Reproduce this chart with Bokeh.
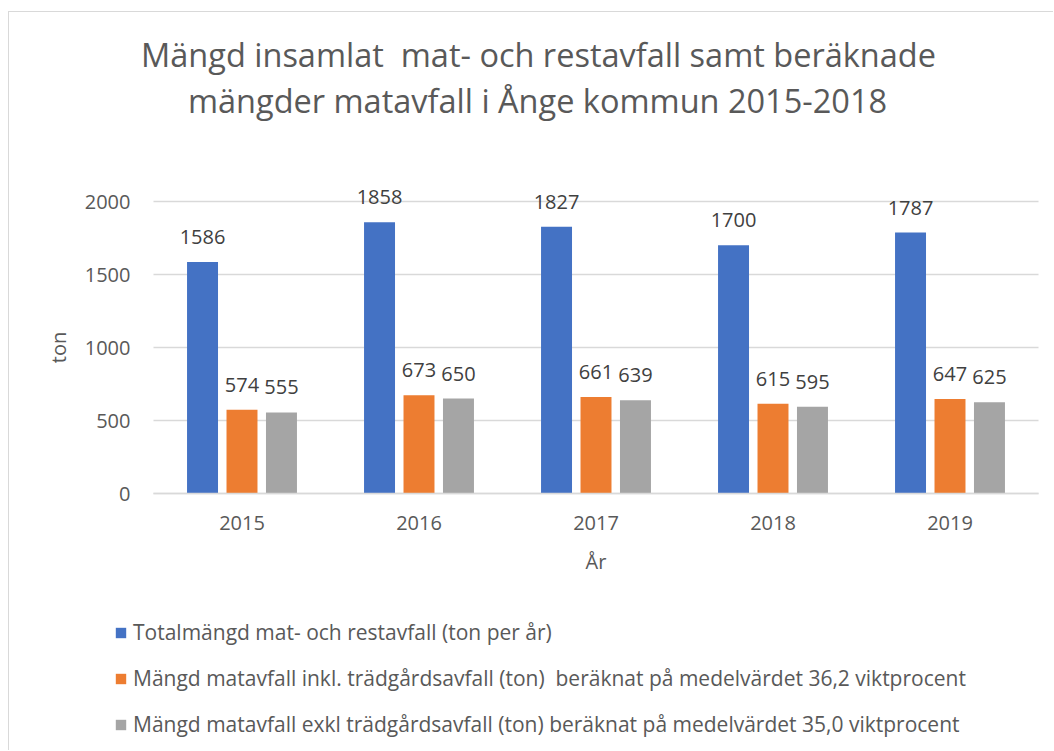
from bokeh.plotting import figure
from bokeh.models import (ColumnDataSource, FixedTicker, Legend, LegendItem, Label, Range1d)
from bokeh.transform import dodge
from bokeh.core.properties import value
from bokeh.embed import file_html
from bokeh.resources import INLINE

years = ["2015", "2016", "2017", "2018", "2019"]
total = [1586, 1858, 1827, 1700, 1787]
inkl = [574, 673, 661, 615, 647]
exkl = [555, 650, 639, 595, 625]
series_names = [
    "Totalmängd mat- och restavfall (ton per år)",
    "Mängd matavfall inkl. trädgårdsavfall (ton)\u00a0 beräknat på medelvärdet 36,2 viktprocent",
    "Mängd matavfall exkl trädgårdsavfall (ton) beräknat på medelvärdet 35,0 viktprocent",
]
colors = ["#4472C4", "#ED7D31", "#A5A5A5"]
title_lines = ["Mängd insamlat\u00a0 mat- och restavfall samt beräknade",
               "mängder matavfall i Ånge kommun 2015-2018"]
y_ticks = [0, 500, 1000, 1500, 2000]

xi = list(range(len(years)))
src = ColumnDataSource(dict(xi=xi, total=total, inkl=inkl, exkl=exkl,
                            total_s=[str(v) for v in total],
                            inkl_s=[str(v) for v in inkl],
                            exkl_s=[str(v) for v in exkl]))

FONT = "Open Sans"
W, H = 1045, 739
# layout in figure pixels
PLOT_L, PLOT_R = 144, 1029      # category area
Y0_PX, Y2000_PX = 481, 189      # pixel rows of value 0 and 2000
xs = (PLOT_R - PLOT_L) / len(years)
ys = (Y0_PX - Y2000_PX) / 2000.0
x_lo = -0.5 - PLOT_L / xs
x_hi = -0.5 + (W - PLOT_L) / xs
y_hi = Y0_PX / ys
y_lo = -(H - Y0_PX) / ys

p = figure(x_range=Range1d(x_lo, x_hi), y_range=Range1d(y_lo, y_hi),
           width=W, height=H, output_backend="svg", toolbar_location=None,
           min_border=0, title=None)
p.styles = {"border-top": "1px solid #d9d9d9", "border-left": "1px solid #d9d9d9",
            "margin-left": "8px", "margin-top": "11px"}
p.outline_line_color = None
p.background_fill_color = "white"
p.border_fill_color = "white"
p.xgrid.visible = False
p.ygrid.visible = False

# horizontal gridlines over the category area
p.segment(x0=-0.5, x1=len(years) - 0.5, y0=y_ticks, y1=y_ticks,
          line_color="#d9d9d9", line_width=1.5)

offsets = [-0.223, 0.0, 0.223]
cols = ["total", "inkl", "exkl"]
renderers = []
for off, col, c in zip(offsets, cols, colors):
    r = p.vbar(x=dodge("xi", off), top=col, width=0.175,
               source=src, fill_color=c, line_color=None)
    renderers.append(r)
    p.text(x=dodge("xi", off), y=col, text=col + "_s", source=src,
           text_font=value(FONT), text_font_size="20px", text_color="#404040",
           text_align="center", text_baseline="middle", y_offset=-25)

# axes
p.yaxis.fixed_location = -0.5
p.yaxis.bounds = (0, 2000)
p.yaxis.ticker = FixedTicker(ticks=y_ticks)
p.yaxis.axis_line_color = None
p.yaxis.major_tick_line_color = None
p.yaxis.minor_tick_line_color = None
p.yaxis.major_label_standoff = 17
p.yaxis.major_label_text_font = FONT
p.yaxis.major_label_text_font_size = "20px"
p.yaxis.major_label_text_color = "#595959"
p.yaxis.axis_label = "ton"
p.yaxis.axis_label_text_font = FONT
p.yaxis.axis_label_text_font_size = "20px"
p.yaxis.axis_label_text_font_style = "normal"
p.yaxis.axis_label_text_color = "#595959"
p.yaxis.axis_label_standoff = 10

p.xaxis.fixed_location = 0
p.xaxis.bounds = (-0.5, len(years) - 0.5)
p.xaxis.ticker = FixedTicker(ticks=xi)
p.xaxis.major_label_overrides = {i: y for i, y in zip(xi, years)}
p.xaxis.axis_line_color = "#d9d9d9"
p.xaxis.axis_line_width = 1.5
p.xaxis.major_tick_line_color = None
p.xaxis.minor_tick_line_color = None
p.xaxis.major_label_standoff = 16
p.xaxis.major_label_text_font = FONT
p.xaxis.major_label_text_font_size = "20px"
p.xaxis.major_label_text_color = "#595959"
p.xaxis.axis_label = "År"
p.xaxis.axis_label_text_font = FONT
p.xaxis.axis_label_text_font_size = "20px"
p.xaxis.axis_label_text_font_style = "normal"
p.xaxis.axis_label_text_color = "#595959"
p.xaxis.axis_label_standoff = 15

# title lines
for line, (px, py) in zip(title_lines, [(529, 42), (528, 88)]):
    p.add_layout(Label(x=-0.5 + (px - PLOT_L) / xs, y=(Y0_PX - py) / ys, text=line,
                       text_align="center", text_baseline="middle",
                       text_font=FONT, text_font_size="32.5px", text_color="#595959"))

legend = Legend(items=[LegendItem(label=n, renderers=[r]) for n, r in zip(series_names, renderers)],
                location=(105, 13), orientation="vertical",
                glyph_width=13, glyph_height=13, label_standoff=6,
                label_text_font=FONT, label_text_font_size="21px", label_text_color="#595959",
                label_height=24, spacing=18, padding=0, margin=0,
                border_line_color=None, background_fill_alpha=0)
p.add_layout(legend, "center")

open("out.html", "w").write(file_html(p, INLINE))
